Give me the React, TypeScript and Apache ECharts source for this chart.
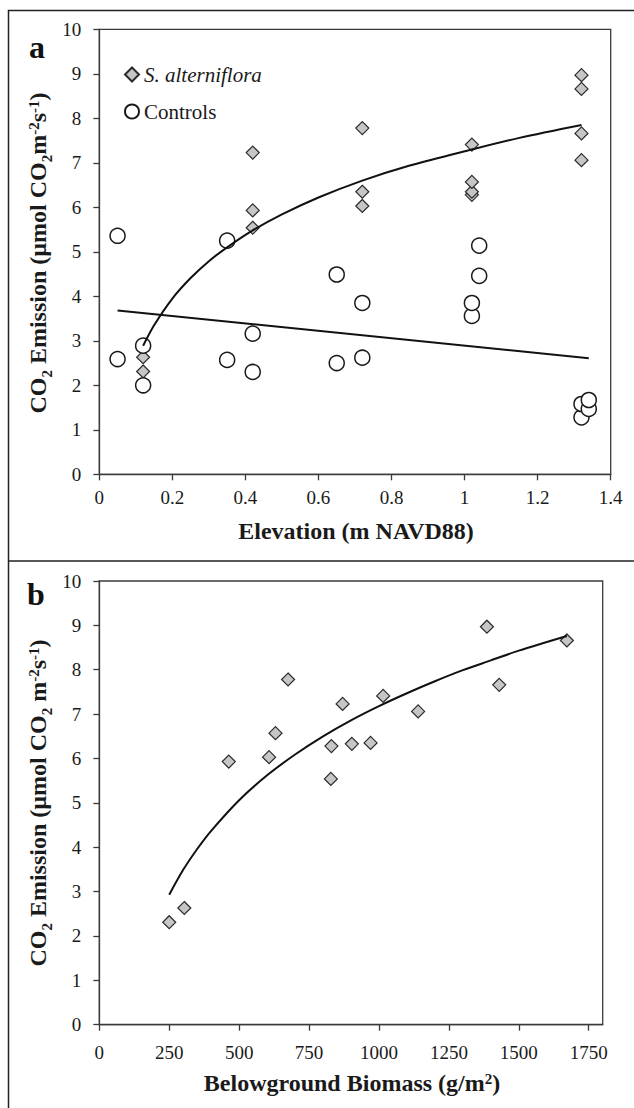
import React, { useEffect, useRef } from "react";
import * as echarts from "echarts";

// ---- Panel a: CO2 emission vs elevation ----
const elevS = [0.12, 0.12, 0.42, 0.42, 0.42, 0.72, 0.72, 0.72, 1.02, 1.02, 1.02, 1.02, 1.32, 1.32, 1.32, 1.32];
const co2S = [2.31, 2.63, 5.54, 5.93, 7.23, 6.03, 6.35, 7.78, 6.28, 6.35, 6.57, 7.41, 7.06, 7.66, 8.66, 8.97];
const elevC = [0.05, 0.05, 0.12, 0.12, 0.35, 0.35, 0.42, 0.42, 0.65, 0.65, 0.72, 0.72, 1.02, 1.02, 1.04, 1.04, 1.32, 1.32, 1.34, 1.34];
const co2C = [2.59, 5.36, 2.0, 2.89, 2.57, 5.25, 2.3, 3.16, 2.5, 4.49, 2.62, 3.85, 3.56, 3.85, 4.46, 5.14, 1.28, 1.58, 1.47, 1.67];
// trend curves
const trendAx = [0.12, 0.15, 0.2, 0.25, 0.3, 0.35, 0.42, 0.5, 0.6, 0.72, 0.85, 1.02, 1.15, 1.32];
const trendAy = [2.89, 3.35, 3.95, 4.41, 4.79, 5.1, 5.48, 5.84, 6.22, 6.6, 6.94, 7.3, 7.56, 7.85];
const lineCx = [0.05, 1.34];
const lineCy = [3.68, 2.61];

// ---- Panel b: CO2 emission vs belowground biomass ----
const biomass = [250, 304, 463, 607, 630, 675, 828, 830, 870, 903, 970, 1015, 1140, 1386, 1430, 1672];
const co2B = [2.31, 2.63, 5.93, 6.03, 6.57, 7.78, 5.54, 6.28, 7.23, 6.33, 6.35, 7.41, 7.06, 8.97, 7.66, 8.66];
const trendBx = [250, 300, 350, 400, 500, 600, 700, 800, 900, 1000, 1100, 1200, 1300, 1400, 1500, 1672];
const trendBy = [2.93, 3.49, 3.96, 4.37, 5.06, 5.62, 6.09, 6.5, 6.86, 7.18, 7.47, 7.74, 7.99, 8.21, 8.43, 8.76];

const xTicksB = [0, 250, 500, 750, 1000, 1250, 1500, 1750];

const legendNames = ["S. alterniflora", "Controls"];

const zip = (xs: number[], ys: number[]) => xs.map((x, i) => [x, ys[i]]);

const FONT = "Liberation Serif";
const INK = "#1a1a1a";
const AXIS = "#3a3a3a";

const titleRich = (size: number) => ({
  sub: { fontSize: Math.round(size * 0.62), fontWeight: "bold", fontFamily: FONT, verticalAlign: "bottom", lineHeight: size + 8, color: INK },
  sup: {
    fontSize: Math.round(size * 0.62), fontWeight: "bold", fontFamily: FONT, verticalAlign: "top",
    lineHeight: size + 8, padding: [4, 0, 0, 0], color: INK,
  },
});

export default function App() {
  const ref = useRef<HTMLDivElement>(null);
  useEffect(() => {
    if (!ref.current) return;
    const chart = echarts.init(ref.current, null, { renderer: "svg" });

    const axisCommon = {
      axisLine: { show: true, lineStyle: { color: AXIS, width: 1.3 } },
      axisTick: { show: true, inside: false, length: 6, lineStyle: { color: AXIS, width: 1.3 } },
      splitLine: { show: false },
    };
    const labelCommon = { fontFamily: FONT, fontSize: 19, color: INK, formatter: (v: number) => String(v) };

    chart.setOption({
      animation: false,
      backgroundColor: "#ffffff",
      grid: [
        { left: 99.3, top: 29.3, width: 511.4, height: 445, show: true, borderColor: AXIS, borderWidth: 1.3 },
        { left: 99.3, top: 581, width: 503.4, height: 443.7, show: true, borderColor: AXIS, borderWidth: 1.3 },
      ],
      xAxis: [
        {
          gridIndex: 0, type: "value", min: 0, max: 1.4, interval: 0.2, ...axisCommon,
          axisLabel: { ...labelCommon, margin: 14 },
        },
        {
          gridIndex: 1, type: "value", min: 0, max: 1800, interval: 250, ...axisCommon,
          axisTick: { ...axisCommon.axisTick, customValues: xTicksB },
          axisLabel: { ...labelCommon, margin: 18, customValues: xTicksB },
        },
      ],
      yAxis: [
        {
          gridIndex: 0, type: "value", min: 0, max: 10, interval: 1, ...axisCommon,
          axisLabel: { ...labelCommon, margin: 18 },
        },
        {
          gridIndex: 1, type: "value", min: 0, max: 10, interval: 1, ...axisCommon,
          axisLabel: { ...labelCommon, margin: 18 },
        },
      ],
      legend: {
        data: legendNames,
        orient: "vertical",
        left: 119,
        top: 59,
        itemWidth: 14,
        itemHeight: 14,
        itemGap: 16,
        selectedMode: false,
        textStyle: {
          fontFamily: FONT, fontSize: 21, lineHeight: 21, color: INK,
          rich: { it: { fontFamily: FONT, fontSize: 21, lineHeight: 21, fontStyle: "italic", color: INK } },
        },
        formatter: (name: string) => (name === "S. alterniflora" ? `{it|${name}}` : name),
      },
      series: [
        {
          name: "S. alterniflora", type: "scatter", xAxisIndex: 0, yAxisIndex: 0,
          data: zip(elevS, co2S), symbol: "diamond", symbolSize: 13,
          itemStyle: { color: "#c6c6c6", borderColor: "#2a2a2a", borderWidth: 1.2, opacity: 1 },
          z: 3,
        },
        {
          name: "Controls", type: "scatter", xAxisIndex: 0, yAxisIndex: 0,
          data: zip(elevC, co2C), symbol: "circle", symbolSize: 15,
          itemStyle: { color: "#ffffff", borderColor: "#1a1a1a", borderWidth: 1.5, opacity: 1 },
          z: 4,
        },
        {
          name: "trendA", type: "line", xAxisIndex: 0, yAxisIndex: 0,
          data: zip(trendAx, trendAy), showSymbol: false, symbol: "none", smooth: 0.3,
          lineStyle: { color: "#111", width: 2 }, z: 5,
        },
        {
          name: "trendC", type: "line", xAxisIndex: 0, yAxisIndex: 0,
          data: zip(lineCx, lineCy), showSymbol: false, symbol: "none",
          lineStyle: { color: "#111", width: 2 }, z: 5,
        },
        {
          name: "S. alterniflora (b)", type: "scatter", xAxisIndex: 1, yAxisIndex: 1,
          data: zip(biomass, co2B), symbol: "diamond", symbolSize: 13,
          itemStyle: { color: "#c6c6c6", borderColor: "#2a2a2a", borderWidth: 1.2, opacity: 1 },
          z: 3,
        },
        {
          name: "trendB", type: "line", xAxisIndex: 1, yAxisIndex: 1,
          data: zip(trendBx, trendBy), showSymbol: false, symbol: "none", smooth: 0.3,
          lineStyle: { color: "#111", width: 2 }, z: 5,
        },
      ],
      graphic: [
        {
          type: "rect", shape: { x: 8.5, y: 10.5, width: 700, height: 1200 },
          style: { fill: "none", stroke: "#222", lineWidth: 1.5 }, silent: true, z: 0,
        },
        {
          type: "line", shape: { x1: 8.5, y1: 561, x2: 700, y2: 561 },
          style: { stroke: "#222", lineWidth: 1.5 }, silent: true,
        },
        {
          type: "text", x: 29, y: 47,
          style: { text: "a", font: `bold 32px ${FONT}`, fill: "#111", align: "left", verticalAlign: "middle" },
        },
        {
          type: "text", x: 27, y: 594,
          style: { text: "b", font: `bold 32px ${FONT}`, fill: "#111", align: "left", verticalAlign: "middle" },
        },
        {
          type: "text", x: 38, y: 253, rotation: Math.PI / 2,
          style: {
            text: "CO{sub|2} Emission (µmol CO{sub|2}m{sup|-2}s{sup|-1})",
            fontFamily: FONT, fontSize: 24, fontWeight: "bold", lineHeight: 32, fill: INK,
            align: "center", verticalAlign: "middle", rich: titleRich(24),
          },
        },
        {
          type: "text", x: 38, y: 803, rotation: Math.PI / 2,
          style: {
            text: "CO{sub|2} Emission (µmol CO{sub|2} m{sup|-2}s{sup|-1})",
            fontFamily: FONT, fontSize: 24, fontWeight: "bold", lineHeight: 32, fill: INK,
            align: "center", verticalAlign: "middle", rich: titleRich(24),
          },
        },
        {
          type: "text", x: 356, y: 531,
          style: {
            text: "Elevation (m NAVD88)", fontFamily: FONT, fontSize: 24, fontWeight: "bold", fill: INK,
            align: "center", verticalAlign: "middle",
          },
        },
        {
          type: "text", x: 352, y: 1083,
          style: {
            text: "Belowground Biomass (g/m{sup|2})", fontFamily: FONT, fontSize: 24, fontWeight: "bold",
            lineHeight: 32, fill: INK, align: "center", verticalAlign: "middle", rich: titleRich(24),
          },
        },
      ],
    });
    return () => chart.dispose();
  }, []);
  return <div ref={ref} style={{ position: "absolute", left: 0, top: 0, width: 634, height: 1108 }} />;
}
